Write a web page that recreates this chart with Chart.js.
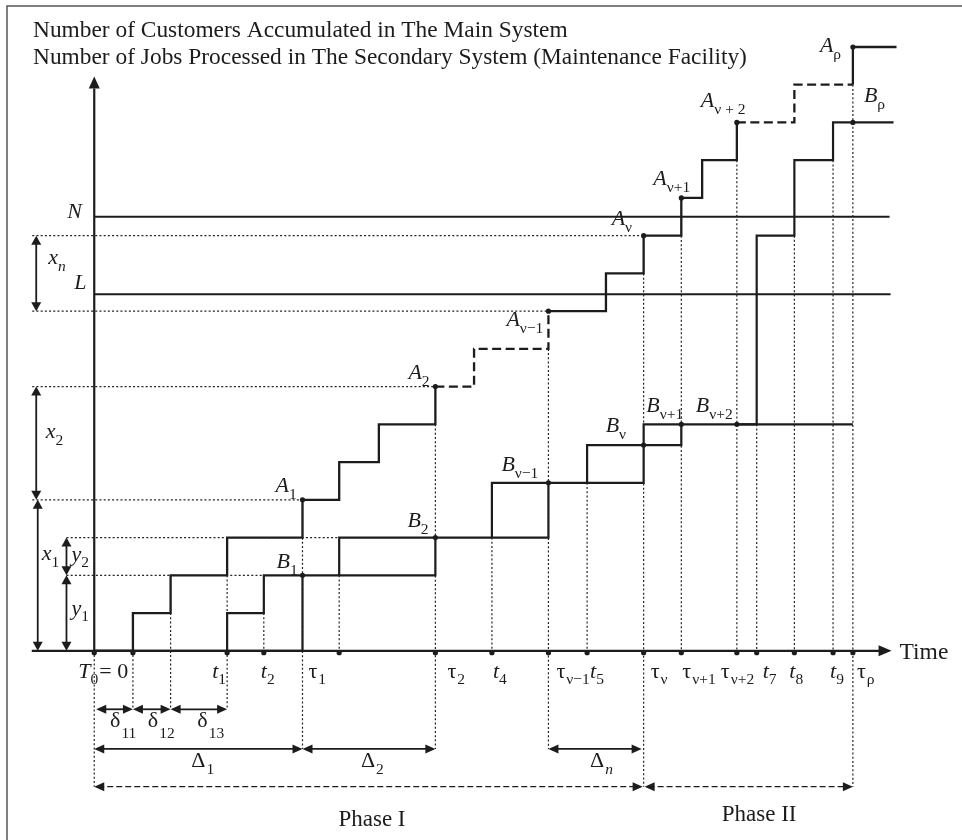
<!DOCTYPE html>
<html>
<head>
<meta charset="utf-8">
<title>Customers accumulated and jobs processed</title>
<script src="https://cdn.jsdelivr.net/npm/chart.js@4.4.1/dist/chart.umd.min.js"></script>
<style>
  html, body { margin: 0; padding: 0; background: #fff; }
  #box { position: relative; width: 962px; height: 840px; }
</style>
</head>
<body>
<div id="box"><canvas id="myChart"></canvas></div>
<script>
// ---- values (time in sketch units, counts in customers / jobs) ----

// A: customers accumulated in the main system
var aTimes  = [0, 3.9, 7.7, 13.4, 21.0, 24.7, 28.7, 34.4, 38.3, 45.8, 51.6, 55.4, 59.2, 61.3, 64.8, 70.6, 76.5, 76.5, 80.9];
var aCounts = [0, 1, 2, 3, 4, 5, 6, 7, 8, 9, 10, 11, 12, 13, 14, 15, 15, 16, 16];
// parts of A that are only sketched (dashed)
var aSketched = [[34.4, 45.8], [64.8, 76.5]];

// B: jobs processed in the secondary system
var bTimes  = [13.4, 17.1, 24.7, 40.1, 49.7, 55.4, 66.8, 70.6, 74.5];
var bCounts = [1, 2, 3, 4.45, 5.45, 6, 11, 13, 14];
var bEnd = 80.6;

// inspection epochs tau and the A / B levels there
var tauTimes = [0, 21.0, 34.4, 45.8, 55.4, 59.2, 64.8, 76.5];
var aAtTau   = [0, 4, 7, 9, 11, 12, 14, 16];
var bAtTau   = [0, 2, 3, 4.45, 5.45, 6, 6, 14];
var aNames = ['', 'A|1', 'A|2', 'A|ν−1', 'A|ν', 'A|ν+1', 'A|ν + 2', 'A|ρ'];
var bNames = ['', 'B|1', 'B|2', 'B|ν−1', 'B|ν', 'B|ν+1', 'B|ν+2', 'B|ρ'];

// thresholds
var levelN = 11.5, levelL = 9.45;

// time axis
var tickTimes = [0, 13.4, 17.1, 21.0, 34.4, 40.1, 45.8, 49.7, 55.4, 59.2, 64.8, 66.8, 70.6, 74.5, 76.5];
var tickNames = ['T|0|= 0', 't|1', 't|2', 'τ|1', 'τ|2', 't|4', 'τ|ν−1', 't|5', 'τ|ν', 'τ|ν+1', 'τ|ν+2', 't|7', 't|8', 't|9', 'τ|ρ'];
var axisDots = [0, 3.9, 13.4, 17.1, 24.7, 34.4, 40.1, 45.8, 49.7, 55.4, 59.2, 64.8, 66.8, 70.6, 74.5, 76.5];

// dotted drop lines: time and highest count they start from
var guideTimes = [0, 3.9, 7.7, 13.4, 17.1, 21.0, 24.7, 34.4, 40.1, 45.8, 49.7, 55.4, 59.2, 64.8, 66.8, 70.6, 74.5, 76.5];
var guideTop   = [0, 1, 2, 2, 2, 4, 2, 6, 3, 8, 4.45, 11, 12, 14, 6, 11, 13, 15];

// dotted level lines: count and time where they end
var levelCounts = [11, 9, 7, 4, 3, 2];
var levelEnds   = [55.4, 45.8, 34.4, 21.0, 24.7, 17.1];

// interval annotations
var smallSpans = [[0.2, 3.9, 'δ|11'], [3.9, 7.7, 'δ|12'], [7.7, 13.4, 'δ|13']];
var bigSpans   = [[0, 21.0, 'Δ|1'], [21.0, 34.4, 'Δ|2'], [45.8, 55.2, 'Δ|n']];
var phaseSpans = [[0, 55.3, 'Phase I'], [55.5, 76.5, 'Phase II']];
var xSpans = [[9, 11, 'x|n'], [4, 7, 'x|2'], [0, 4, 'x|1']];
var ySpans = [[2, 3, 'y|2'], [0, 2, 'y|1']];

// ---- layout ----
var ink = '#1c1c1c';
var serif = '"Liberation Serif", "Times New Roman", serif';
var rowSmall = -1.55, rowBig = -2.6, rowPhase = -3.6;
var xCol = -5.85, yCol = -2.8;

function near(a, b) { return Math.abs(a - b) < 0.35; }
function spanHas(list, t) {
  return list.some(function (s) { return near(s[0], t) || near(s[1], t); });
}

var datasets = [];
function addLine(points, opts) {
  datasets.push(Object.assign({
    type: 'line', data: points, showLine: true, pointRadius: 0,
    borderColor: ink, borderWidth: 2.2, fill: false, tension: 0, clip: false
  }, opts || {}));
}
var dotted = { borderWidth: 1.2, borderDash: [2, 2.2], borderColor: '#222' };

// dotted drop lines
guideTimes.forEach(function (t, i) {
  var bottom = 0;
  if (spanHas(smallSpans, t)) bottom = rowSmall;
  if (spanHas(bigSpans, t)) bottom = rowBig;
  if (spanHas(phaseSpans, t)) bottom = rowPhase;
  addLine([{ x: t, y: guideTop[i] }, { x: t, y: bottom }], dotted);
});
// dotted level lines
levelCounts.forEach(function (c, i) {
  var start = c >= 4 ? xCol - 0.4 : yCol;
  addLine([{ x: start, y: c }, { x: levelEnds[i], y: c }], dotted);
});

// thresholds N and L
addLine([{ x: 0, y: levelN }, { x: 80.2, y: levelN }], { borderWidth: 2 });
addLine([{ x: 0, y: levelL }, { x: 80.3, y: levelL }], { borderWidth: 2 });

// axes
addLine([{ x: -6.3, y: 0 }, { x: 79.6, y: 0 }], { borderWidth: 2.2 });
addLine([{ x: 0, y: 0 }, { x: 0, y: 14.9 }], { borderWidth: 2.2 });

// A staircase
addLine(aTimes.map(function (t, i) { return { x: t, y: aCounts[i] }; }), {
  stepped: 'before', borderWidth: 2.3,
  segment: {
    borderDash: function (ctx) {
      var x0 = ctx.p0.parsed.x, x1 = ctx.p1.parsed.x;
      var sk = aSketched.some(function (s) { return x0 >= s[0] && x0 < s[1] && x1 <= s[1]; });
      return sk ? [9, 4.5] : undefined;
    }
  }
});

// B: one closed box per inspection cycle in phase I, open staircase in phase II
for (var k = 1; k < tauTimes.length; k++) {
  var t0 = tauTimes[k - 1], t1 = tauTimes[k], base = bAtTau[k - 1];
  var pts = [{ x: t0, y: base }];
  bTimes.forEach(function (t, j) { if (t >= t0 && t < t1) pts.push({ x: t, y: bCounts[j] }); });
  if (k < tauTimes.length - 1) {
    pts.push({ x: t1, y: bAtTau[k] }, { x: t1, y: base }, { x: t0, y: base });
  } else {
    pts.push({ x: bEnd, y: pts[pts.length - 1].y });
    addLine([{ x: t0, y: base }, { x: t1, y: base }], { borderWidth: 2.2 });
  }
  addLine(pts, { stepped: 'before', borderWidth: 2.2 });
}

// dots
var dotPts = [];
tauTimes.forEach(function (t, i) {
  if (i === 0) return;
  dotPts.push({ x: t, y: aAtTau[i] }, { x: t, y: bAtTau[i] });
});
axisDots.forEach(function (t) { dotPts.push({ x: t, y: -0.05 }); });
datasets.push({ type: 'scatter', data: dotPts, pointRadius: 2.6, pointBackgroundColor: ink,
  pointBorderWidth: 0, showLine: false, clip: false });

// ---- drawing helpers for text and arrows ----
function isLatin(s) { return /^[A-Za-z]/.test(s); }
function drawTerm(ctx, label, x, y, o) {
  o = o || {};
  var p = label.split('|');
  var size = o.size || 22, subSize = o.subSize || 15.5, subDy = o.subDy || 6;
  var segs = [{ t: p[0], f: (isLatin(p[0]) ? 'italic ' : '') + size + 'px ' + serif, dy: 0, gap: 0 }];
  if (p[1]) segs.push({ t: p[1], f: (p[1] === 'n' ? 'italic ' : '') + subSize + 'px ' + serif, dy: subDy, gap: isLatin(p[0]) ? 0 : 1 });
  if (p[2]) segs.push({ t: p[2], f: size + 'px ' + serif, dy: 0, gap: 1 });
  segs.forEach(function (s) { ctx.font = s.f; s.w = ctx.measureText(s.t).width; });
  var cx = x;
  segs.forEach(function (s) { ctx.font = s.f; cx += s.gap; ctx.fillText(s.t, cx, y + s.dy); cx += s.w; });
}
function head(ctx, x, y, dx, dy, len, half) {
  ctx.beginPath();
  ctx.moveTo(x, y);
  ctx.lineTo(x - dx * len - dy * half, y - dy * len + dx * half);
  ctx.lineTo(x - dx * len + dy * half, y - dy * len - dx * half);
  ctx.closePath();
  ctx.fill();
}
function hArrow(ctx, x0, x1, y, dash) {
  ctx.save();
  ctx.lineWidth = dash ? 1.3 : 1.8;
  if (dash) ctx.setLineDash([6, 3]);
  ctx.beginPath(); ctx.moveTo(x0 + 4, y); ctx.lineTo(x1 - 4, y); ctx.stroke();
  ctx.restore();
  head(ctx, x0, y, -1, 0, 10, 4.5);
  head(ctx, x1, y, 1, 0, 10, 4.5);
}
function vArrow(ctx, x, y0, y1) {
  ctx.save(); ctx.lineWidth = 1.8;
  ctx.beginPath(); ctx.moveTo(x, y0 - 4); ctx.lineTo(x, y1 + 4); ctx.stroke();
  ctx.restore();
  head(ctx, x, y0, 0, 1, 9, 5);
  head(ctx, x, y1, 0, -1, 9, 5);
}

var aLabelOff = [null, [-27, -8], [-27, -8], [-42, 15], [-32, -11], [-28, -13], [-36, -15], [-33, 5]];
var bLabelOff = [null, [-26, -7], [-28, -11], [-47, -12], [-38, -13], [-35, -12], [-41, -12], [11, -20]];
var tickDx = [-16, -15, -3, 6, 12, 1, 8, 3, 7, 1, -16, 6, -5, -3, 4];

var annotate = {
  id: 'annotate',
  afterDatasetsDraw: function (chart) {
    var ctx = chart.ctx, xs = chart.scales.x, ys = chart.scales.y;
    var X = function (v) { return xs.getPixelForValue(v); };
    var Y = function (v) { return ys.getPixelForValue(v); };
    ctx.save();
    ctx.fillStyle = ink; ctx.strokeStyle = ink;
    ctx.textBaseline = 'alphabetic';

    // frame
    ctx.save(); ctx.strokeStyle = '#555'; ctx.lineWidth = 1.5;
    ctx.beginPath(); ctx.moveTo(962, 6); ctx.lineTo(7, 6); ctx.lineTo(7, 840); ctx.stroke();
    ctx.restore();

    // title
    ctx.font = '23.4px ' + serif;
    ctx.fillText('Number of Customers Accumulated in The Main System', 33, 37);
    ctx.fillText('Number of Jobs Processed in The Secondary System (Maintenance Facility)', 33, 64);

    // axis arrow heads and axis title
    head(ctx, X(80.4), Y(0), 1, 0, 13, 5.5);
    head(ctx, X(0), Y(15.22), 0, -1, 12, 5.5);
    ctx.font = '23.5px ' + serif;
    ctx.fillText('Time', X(80.4) + 8, Y(0) + 8);

    // thresholds
    drawTerm(ctx, 'N', X(0) - 27, Y(levelN) + 1);
    drawTerm(ctx, 'L', X(0) - 20, Y(levelL) - 5);

    // count spans
    xSpans.forEach(function (s, i) {
      var xc = X(xCol) + (i === 2 ? 1.5 : 0);
      vArrow(ctx, xc, Y(s[0]), Y(s[1]));
      var mid = Y((s[0] + s[1]) / 2);
      var off = [[12, -9], [9.5, -5], [4, -15]][i];
      drawTerm(ctx, s[2], xc + off[0], mid + off[1], { subDy: 7 });
    });
    ySpans.forEach(function (s, i) {
      var xc = X(yCol);
      vArrow(ctx, xc, Y(s[0]), Y(s[1]));
      var mid = Y((s[0] + s[1]) / 2);
      drawTerm(ctx, s[2], xc + 5, mid + (i === 0 ? 5 : 2), { subDy: 6 });
    });

    // interval spans under the axis
    smallSpans.forEach(function (s, i) {
      hArrow(ctx, X(s[0]), X(s[1]), Y(rowSmall), false);
      drawTerm(ctx, s[2], (X(s[0]) + X(s[1])) / 2 + [-4.5, -4, -1.5][i], Y(rowSmall) + 18, { subDy: 11 });
    });
    bigSpans.forEach(function (s, i) {
      hArrow(ctx, X(s[0]), X(s[1]), Y(rowBig), false);
      drawTerm(ctx, s[2], (X(s[0]) + X(s[1])) / 2 + [-7, -8, -5][i], Y(rowBig) + 18, { subDy: 7 });
    });
    phaseSpans.forEach(function (s, i) {
      hArrow(ctx, X(s[0]), X(s[1]), Y(rowPhase), true);
      ctx.font = '23px ' + serif;
      ctx.fillText(s[2], (X(s[0]) + X(s[1])) / 2 + [-30, -27][i], Y(rowPhase) + [39, 34][i]);
    });

    // tick labels
    tickTimes.forEach(function (t, i) {
      drawTerm(ctx, tickNames[i], X(t) + tickDx[i], Y(0) + 27, { subDy: 6 });
    });

    // A and B labels
    for (var k = 1; k < tauTimes.length; k++) {
      var xa = X(tauTimes[k]);
      drawTerm(ctx, aNames[k], xa + aLabelOff[k][0], Y(aAtTau[k]) + aLabelOff[k][1], { subDy: 7 });
      drawTerm(ctx, bNames[k], xa + bLabelOff[k][0], Y(bAtTau[k]) + bLabelOff[k][1], { subDy: 7 });
    }
    ctx.restore();
  }
};

var ctx = document.getElementById('myChart').getContext('2d');
var myChart = new Chart(ctx, {
  type: 'scatter',
  data: { datasets: datasets },
  options: {
    responsive: true,
    maintainAspectRatio: false,
    animation: false,
    events: [],
    layout: { padding: 0 },
    plugins: { legend: { display: false }, tooltip: { enabled: false } },
    scales: {
      x: { type: 'linear', display: false, min: -9.1, max: 87.1 },
      y: { type: 'linear', display: false, min: -4.908, max: 17.139 }
    }
  },
  plugins: [annotate]
});
</script>
</body>
</html>
